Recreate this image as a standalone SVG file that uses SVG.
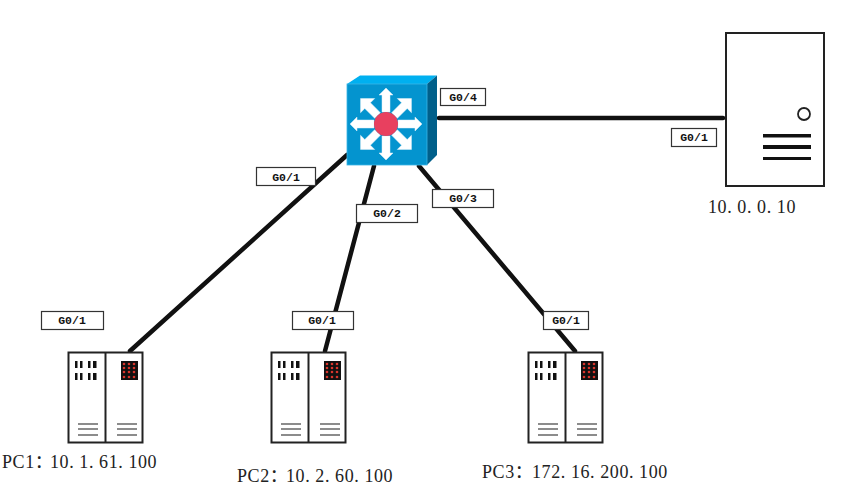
<svg xmlns="http://www.w3.org/2000/svg" width="858" height="487" viewBox="0 0 858 487">
<style>
.link{stroke:#111;stroke-width:4.500;fill:none;stroke-linecap:round}
.tag rect{fill:#fff;stroke:#333;stroke-width:1.200}
.tag text{font:bold 11.500px "Liberation Mono","DejaVu Sans Mono",monospace;fill:#111;text-anchor:middle}
.cap{font:18px "Liberation Serif","Noto Sans CJK SC",serif;fill:#222;letter-spacing:.58px}
.box{fill:#fff;stroke:#222;stroke-width:2}
.bar{fill:#111}
.vent{stroke:#666;stroke-width:1.500}
.dot{fill:#d8352c}
.ar{fill:#fff;stroke:#d8eef8;stroke-width:.5}
</style>
<defs>
<g id="pc">
<rect class="box" x="0.500" y="0.500" width="74" height="90"/>
<line x1="37.500" y1="0.500" x2="37.500" y2="90.500" stroke="#222" stroke-width="2"/>
<g class="bar">
<rect x="7" y="9" width="2.500" height="7"/><rect x="12" y="9" width="2.500" height="7"/><rect x="20" y="9" width="2.500" height="7"/><rect x="25" y="9" width="3.500" height="7"/>
<rect x="7" y="21" width="2.500" height="7"/><rect x="12" y="21" width="2.500" height="7"/><rect x="20" y="21" width="2.500" height="7"/><rect x="25" y="21" width="3.500" height="7"/>
<rect x="53" y="9" width="17" height="19"/>
</g>
<g class="dot">
<circle cx="56" cy="12" r="1.300"/><circle cx="61" cy="12" r="1.300"/><circle cx="66" cy="12" r="1.300"/>
<circle cx="56" cy="16" r="1.300"/><circle cx="61" cy="16" r="1.300"/><circle cx="66" cy="16" r="1.300"/>
<circle cx="56" cy="20" r="1.300"/><circle cx="61" cy="20" r="1.300"/><circle cx="66" cy="20" r="1.300"/>
<circle cx="56" cy="25" r="1.300"/><circle cx="61" cy="25" r="1.300"/><circle cx="66" cy="25" r="1.300"/>
</g>
<g class="vent">
<line x1="10" y1="72" x2="30" y2="72"/><line x1="10" y1="77" x2="30" y2="77"/><line x1="10" y1="83" x2="30" y2="83"/>
<line x1="49" y1="72" x2="69" y2="72"/><line x1="49" y1="77" x2="69" y2="77"/><line x1="49" y1="83" x2="69" y2="83"/>
</g>
</g>
<path id="arrow" class="ar" d="M-4,-12 L-4,-29 L-7,-29 L0,-36 L7,-29 L4,-29 L4,-12 Z"/>
<path id="arrowd" class="ar" d="M-4,-12 L-4,-26 L-10,-26 L0,-36 L10,-26 L4,-26 L4,-12 Z"/>
</defs>

<g id="connectors">
<line class="link" x1="347" y1="155" x2="130" y2="351"/>
<line class="link" x1="374" y1="166" x2="325" y2="351"/>
<line class="link" x1="419" y1="166" x2="575" y2="351"/>
<line class="link" x1="439" y1="118" x2="723" y2="118"/>
</g>

<g id="switch">
<polygon points="347,84 360,75.500 437,75.500 427,84" fill="#00b0f0"/>
<polygon points="427,84 437,75.500 437,155 427,165" fill="#005f8a"/>
<rect x="347" y="84" width="80" height="81" fill="#0494cf" stroke="#3ab4e6" stroke-width=".8"/>
<g transform="translate(386,124)">
<line x1="-32" y1="0" x2="32" y2="0" stroke="#0b4f70" stroke-width="1"/>
<line x1="0" y1="-30" x2="0" y2="32" stroke="#0b4f70" stroke-width="1"/>
<use href="#arrow"/>
<use href="#arrowd" transform="rotate(45)"/>
<use href="#arrow" transform="rotate(90)"/>
<use href="#arrowd" transform="rotate(135)"/>
<use href="#arrow" transform="rotate(180)"/>
<use href="#arrowd" transform="rotate(225)"/>
<use href="#arrow" transform="rotate(270)"/>
<use href="#arrowd" transform="rotate(315)"/>
<circle r="12" fill="#e8405f"/>
</g>
</g>

<g id="server">
<rect class="box" x="726" y="33" width="98" height="153"/>
<circle cx="804" cy="114" r="6" fill="#fff" stroke="#222" stroke-width="1.800"/>
<rect class="bar" x="763" y="134" width="48" height="3.500"/>
<rect class="bar" x="763" y="145" width="48" height="4"/>
<rect class="bar" x="763" y="157" width="48" height="3"/>
<text class="cap" x="708" y="213">10. 0. 0. 10</text>
</g>

<g id="pc1">
<use href="#pc" x="68" y="352"/>
<text class="cap" x="2" y="468">PC1：<tspan x="50">10. 1. 61. 100</tspan></text>
</g>
<g id="pc2">
<use href="#pc" x="271" y="352"/>
<text class="cap" x="237" y="482">PC2：<tspan x="286">10. 2. 60. 100</tspan></text>
</g>
<g id="pc3">
<use href="#pc" x="528" y="352"/>
<text class="cap" x="482" y="478">PC3：<tspan x="532">172. 16. 200. 100</tspan></text>
</g>

<g id="labels">
<g class="tag"><rect x="440.500" y="88.500" width="45" height="17"/><text x="463" y="101">G0/4</text></g>
<g class="tag"><rect x="671.500" y="128.500" width="45" height="18"/><text x="694" y="141">G0/1</text></g>
<g class="tag"><rect x="256.500" y="167.500" width="59" height="18"/><text x="286" y="181">G0/1</text></g>
<g class="tag"><rect x="356.500" y="204.500" width="61" height="18"/><text x="387" y="217">G0/2</text></g>
<g class="tag"><rect x="432.500" y="189.500" width="61" height="18"/><text x="463" y="202">G0/3</text></g>
<g class="tag"><rect x="41.500" y="311.500" width="62" height="18"/><text x="72" y="324">G0/1</text></g>
<g class="tag"><rect x="292.500" y="311.500" width="61" height="18"/><text x="322" y="324">G0/1</text></g>
<g class="tag"><rect x="543.500" y="311.500" width="45" height="18"/><text x="566" y="324">G0/1</text></g>
</g>
</svg>
